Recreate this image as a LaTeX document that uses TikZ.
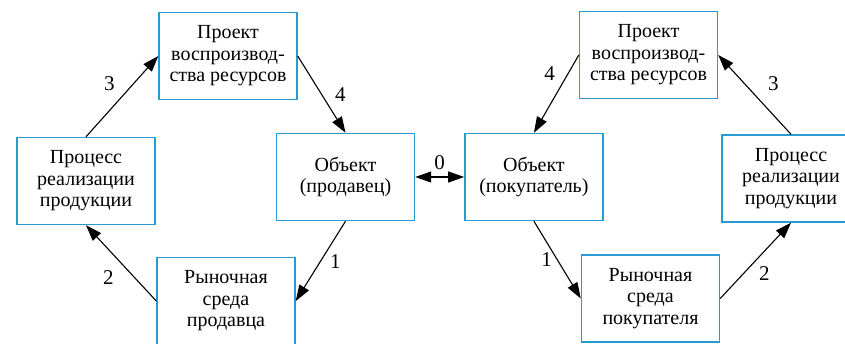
\documentclass[tikz,border=0pt]{standalone}
\usepackage{fontspec}
\setmainfont{Liberation Serif}
\usepackage{tikz}
\usetikzlibrary{positioning, arrows.meta}
\definecolor{boxblue}{RGB}{40,155,210}

\begin{document}
\begin{tikzpicture}[
    x=1pt, y=-1pt,
    block/.style={rectangle, draw=boxblue, line width=1.4pt, minimum width=138pt, minimum height=87pt, align=center, font=\rmfamily\fontsize{20}{21.5}\selectfont, inner sep=2pt},
    link/.style={-{Triangle[length=16pt, width=11pt]}, line width=1.1pt},
    both/.style={{Triangle[length=16pt, width=11pt]}-{Triangle[length=16pt, width=11pt]}, line width=1.1pt},
    num/.style={font=\rmfamily\fontsize{21}{21.5}\selectfont, inner sep=1pt}
]
\useasboundingbox (0,0) rectangle (845,343);

% Seller side
\node[block] (objS) at (345.5,177) {Объект\\(продавец)};
\node[block] (projL) at (228,56) {Проект\\воспроизвод-\\ства ресурсов};
\node[block] (procL) at (86,181) {Процесс\\реализации\\продукции};
\node[block] (mktL) at (226,301) {Рыночная\\среда\\продавца};

% Buyer side
\node[block, right=49pt of objS] (objB) {Объект\\(покупатель)};
\node[block] (projR) at (648.5,55) {Проект\\воспроизвод-\\ства ресурсов};
\node[block] (procR) at (791,178.5) {Процесс\\реализации\\продукции};
\node[block] (mktR) at (650.5,298.5) {Рыночная\\среда\\покупателя};

% Links, seller
\draw[link] (objS.south) -- node[num, right=8pt] {1} (mktL.east);
\draw[link] (mktL.west) -- node[num, below left=6pt and 6pt] {2} (procL.south);
\draw[link] (procL.north) -- node[num, above left=4pt and 6pt] {3} (projL.west);
\draw[link] (projL.east) -- node[num, right=12pt] {4} (objS.north);

% Exchange
\draw[both] (objS.east) -- node[num, above=6pt] {0} (objB.west);

% Links, buyer
\draw[link] (objB.south) -- node[num, left=4pt] {1} (mktR.west);
\draw[link] (mktR.east) -- node[num, below right=4pt and 2pt] {2} (procR.south);
\draw[link] (procR.north) -- node[num, above right=2pt and 12pt] {3} (projR.east);
\draw[link] (projR.west) -- node[num, above left=12pt and 0pt] {4} (objB.north);

\end{tikzpicture}
\end{document}
